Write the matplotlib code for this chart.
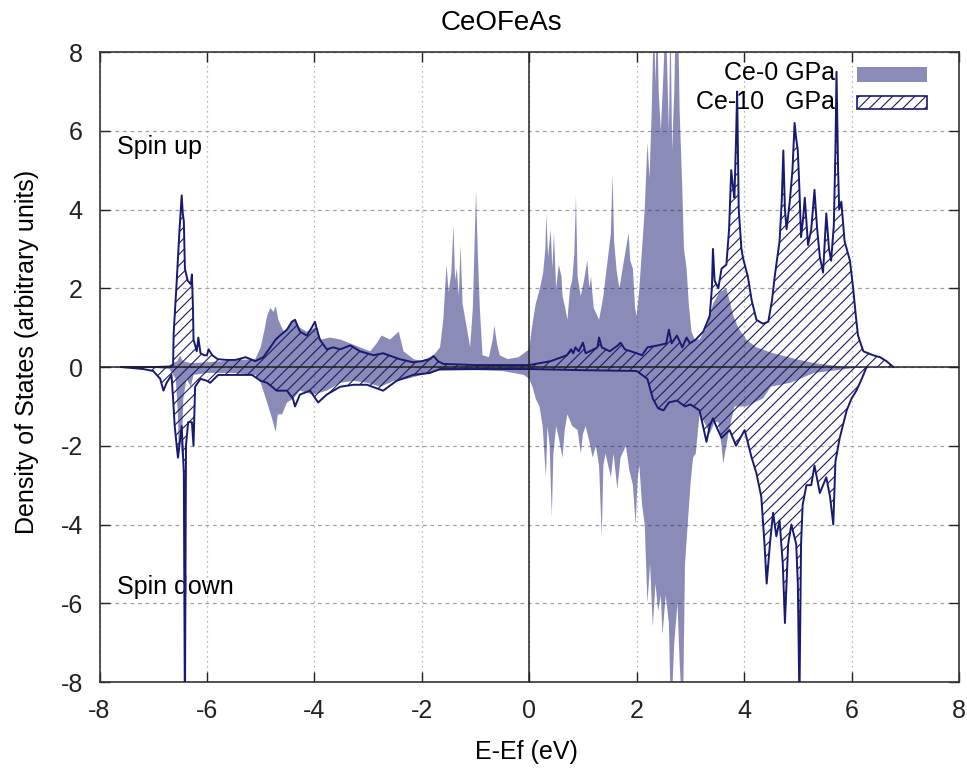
import numpy as np
import matplotlib
matplotlib.use("Agg")
import matplotlib.pyplot as plt
from matplotlib.patches import Rectangle

# --- Ce-0 GPa, spin up ---
e_up0 = [-7.6, -7.0, -6.7, -6.55, -6.5, -6.45, -6.3, -6.0, -5.7, -5.4, -5.1, -5.0,
         -4.92, -4.88, -4.82, -4.76, -4.72, -4.67, -4.57, -4.48, -4.39, -4.27, -4.14,
         -3.99, -3.87, -3.71, -3.52, -3.33, -3.15, -2.96, -2.84, -2.75, -2.59, -2.43,
         -2.34, -2.15, -2.0, -1.78, -1.66, -1.6, -1.54, -1.5, -1.45, -1.41, -1.38,
         -1.35, -1.31, -1.28, -1.24, -1.15, -1.1, -1.05, -1.01, -0.99, -0.96, -0.92,
         -0.87, -0.75, -0.68, -0.65, -0.6, -0.55, -0.4, -0.2, 0.0, 0.05, 0.12, 0.2,
         0.26, 0.3, 0.32, 0.35, 0.4, 0.43, 0.46, 0.5, 0.55, 0.6, 0.62, 0.67, 0.71,
         0.76, 0.8, 0.84, 0.87, 0.9, 0.96, 1.02, 1.08, 1.12, 1.15, 1.2, 1.3, 1.38,
         1.45, 1.52, 1.55, 1.58, 1.63, 1.68, 1.75, 1.8, 1.85, 1.88, 1.93, 1.97, 2.0,
         2.05, 2.1, 2.15, 2.2, 2.24, 2.28, 2.32, 2.35, 2.38, 2.41, 2.45, 2.5, 2.54,
         2.58, 2.6, 2.63, 2.66, 2.7, 2.73, 2.77, 2.8, 2.85, 2.88, 2.93, 2.97, 3.02,
         3.08, 3.17, 3.3, 3.42, 3.54, 3.67, 3.8, 3.89, 4.04, 4.23, 4.54, 4.97, 5.3,
         5.6, 5.9]
dos_up0 = [0.0, 0.02, 0.05, 0.15, 0.3, 0.15, 0.1, 0.12, 0.15, 0.18, 0.2, 0.5,
           1.0, 1.3, 1.5, 1.4, 1.55, 1.2, 0.9, 1.0, 1.2, 1.0, 0.9,
           1.0, 0.7, 0.75, 0.7, 0.6, 0.5, 0.4, 0.6, 0.8, 0.7, 0.9,
           0.4, 0.2, 0.15, 0.3, 0.5, 1.2, 2.6, 1.9, 2.4, 3.6, 2.2,
           2.5, 1.8, 3.1, 1.6, 0.9, 0.5, 1.5, 3.5, 4.5, 3.0, 1.5,
           0.3, 0.25, 0.7, 1.05, 0.6, 0.3, 0.2, 0.25, 0.45, 1.0, 1.6, 2.0,
           2.4, 3.0, 3.9, 2.8, 3.5, 2.5, 3.4, 2.0, 2.6, 2.3, 1.8, 1.5, 1.2,
           2.0, 2.2, 2.9, 4.35, 2.3, 1.8, 2.2, 2.7, 2.0, 2.3, 1.5, 1.2, 1.8,
           2.6, 3.4, 4.9, 3.2, 2.4, 2.0, 2.6, 3.0, 3.4, 2.7, 2.5, 1.5, 1.3,
           2.0, 3.0, 4.0, 5.7, 4.8, 6.5, 9.0, 7.2, 9.0, 7.0, 6.0, 7.5, 9.0,
           7.0, 6.0, 9.0, 5.5, 7.0, 9.0, 9.0, 6.5, 4.5, 3.0, 2.5, 1.6, 0.9,
           0.7, 0.7, 1.0, 1.6, 1.9, 2.0, 1.3, 1.0, 0.7, 0.5, 0.35, 0.2, 0.1,
           0.05, 0.0]

# --- Ce-0 GPa, spin down ---
e_dn0 = [-7.6, -7.0, -6.7, -6.58, -6.54, -6.52, -6.5, -6.47, -6.44, -6.38, -6.3,
         -6.25, -6.0, -5.5, -5.1, -5.0, -4.88, -4.79, -4.72, -4.68, -4.6, -4.51,
         -4.39, -4.27, -4.02, -3.77, -3.52, -3.27, -3.02, -2.77, -2.52, -2.27, -2.0,
         -1.7, -1.0, -0.5, -0.1, 0.0, 0.06, 0.12, 0.19, 0.25, 0.31, 0.34, 0.38,
         0.42, 0.45, 0.5, 0.55, 0.62, 0.66, 0.71, 0.8, 0.9, 0.96, 1.0, 1.05, 1.12,
         1.18, 1.24, 1.3, 1.35, 1.38, 1.42, 1.47, 1.52, 1.57, 1.64, 1.7, 1.8, 1.86,
         1.93, 1.98, 2.02, 2.05, 2.1, 2.15, 2.2, 2.25, 2.3, 2.35, 2.4, 2.45, 2.48,
         2.54, 2.6, 2.64, 2.7, 2.76, 2.8, 2.86, 2.9, 2.95, 3.0, 3.05, 3.1, 3.17,
         3.3, 3.36, 3.45, 3.52, 3.58, 3.61, 3.67, 3.72, 3.82, 4.04, 4.35, 4.5,
         4.86, 5.3, 5.9, 6.2]
dos_dn0 = [0.0, -0.02, -0.05, -0.3, -1.2, -2.45, -1.5, -2.3, -0.8, -0.3, -0.5,
           -0.2, -0.15, -0.15, -0.2, -0.4, -0.9, -1.3, -1.65, -1.2, -1.2, -0.9,
           -0.8, -0.6, -0.7, -0.6, -0.4, -0.35, -0.4, -0.5, -0.35, -0.3, -0.2,
           -0.1, -0.08, -0.1, -0.2, -0.3, -0.5, -0.8, -1.0, -1.5, -2.8, -1.5, -2.0,
           -3.8, -2.2, -1.5, -1.8, -2.3, -1.6, -1.2, -1.5, -1.6, -2.2, -1.7, -1.5, -1.9,
           -2.3, -2.0, -2.5, -4.3, -2.5, -2.2, -2.5, -2.8, -2.2, -3.1, -2.3, -2.0, -2.6,
           -3.0, -4.0, -2.8, -2.5, -3.5, -4.0, -6.0, -5.0, -6.6, -5.5, -6.2, -5.8, -6.8,
           -5.8, -6.5, -9.0, -7.0, -6.0, -7.5, -9.0, -5.0, -4.0, -3.0, -2.3, -2.2, -1.2,
           -1.5, -1.7, -1.4, -1.4, -2.0, -2.45, -2.0, -1.6, -1.0, -1.0, -0.8, -0.5,
           -0.4, -0.15, -0.05, 0.0]

# --- Ce-10 GPa, spin up ---
e_up10 = [-7.6, -6.7, -6.63, -6.62, -6.57, -6.51, -6.47, -6.45, -6.43, -6.41, -6.36,
          -6.3, -6.28, -6.26, -6.25, -6.19, -6.16, -6.12, -6.05, -6.0, -5.97, -5.9,
          -5.8, -5.63, -5.47, -5.28, -5.1, -4.95, -4.82, -4.72, -4.64, -4.51, -4.42,
          -4.36, -4.3, -4.27, -4.14, -4.05, -3.99, -3.9, -3.77, -3.65, -3.52, -3.33,
          -3.15, -2.9, -2.72, -2.41, -2.16, -2.0, -1.85, -1.78, -1.7, -1.6, -1.0,
          0.0, 0.2, 0.4, 0.5, 0.7, 0.78, 0.82, 0.86, 0.92, 1.0, 1.05, 1.2, 1.27,
          1.3, 1.35, 1.5, 1.65, 1.7, 1.78, 2.0, 2.1, 2.2, 2.4, 2.55, 2.6, 2.65,
          2.75, 2.85, 2.93, 2.99, 3.1, 3.24, 3.36, 3.4, 3.42, 3.45, 3.52, 3.58,
          3.67, 3.72, 3.76, 3.8, 3.82, 3.85, 3.87, 3.89, 3.9, 3.95, 3.98, 4.03,
          4.07, 4.14, 4.23, 4.35, 4.45, 4.52, 4.57, 4.66, 4.7, 4.73, 4.76, 4.79,
          4.85, 4.9, 4.94, 4.97, 5.0, 5.03, 5.06, 5.1, 5.13, 5.19, 5.25, 5.31,
          5.36, 5.41, 5.47, 5.53, 5.58, 5.62, 5.67, 5.7, 5.72, 5.75, 5.77, 5.81,
          5.87, 5.93, 5.97, 6.03, 6.08, 6.12, 6.22, 6.4, 6.53, 6.65, 6.78]
dos_up10 = [0.0, 0.0, 0.05, 0.85, 2.0, 3.5, 4.36, 3.9, 3.7, 2.5, 2.2,
            2.1, 2.35, 1.5, 0.7, 0.4, 0.75, 0.35, 0.3, 0.3, 0.45, 0.3,
            0.2, 0.18, 0.18, 0.25, 0.15, 0.25, 0.5, 0.7, 0.8, 0.95, 1.15,
            1.2, 1.0, 0.9, 0.8, 1.0, 1.15, 0.7, 0.45, 0.5, 0.45, 0.55,
            0.4, 0.3, 0.35, 0.2, 0.12, 0.15, 0.2, 0.28, 0.15, 0.08, 0.05,
            0.05, 0.1, 0.15, 0.2, 0.3, 0.45, 0.35, 0.5, 0.4, 0.62, 0.35, 0.45, 0.5,
            0.75, 0.5, 0.4, 0.55, 0.62, 0.45, 0.35, 0.3, 0.5, 0.55, 0.6, 0.95, 0.6,
            0.8, 0.5, 0.75, 0.6, 0.7, 0.9, 1.3, 2.0, 3.0, 2.2, 2.0, 2.5,
            2.6, 3.5, 5.0, 4.5, 4.3, 5.8, 7.0, 5.0, 4.0, 3.0, 2.77, 2.5,
            2.3, 1.7, 1.2, 1.1, 1.15, 1.7, 2.3, 3.2, 4.2, 5.5, 4.0, 3.5,
            4.2, 5.0, 6.2, 5.8, 5.5, 4.5, 3.3, 3.8, 4.3, 3.1, 3.5, 4.5,
            3.5, 2.8, 2.4, 3.9, 3.0, 2.7, 3.6, 5.5, 7.5, 5.0, 4.0, 4.2,
            3.2, 2.9, 2.7, 2.0, 1.3, 0.8, 0.4, 0.3, 0.25, 0.15, 0.0]

# --- Ce-10 GPa, spin down ---
e_dn10 = [-7.6, -7.43, -7.19, -7.0, -6.87, -6.81, -6.75, -6.66, -6.63, -6.6, -6.54,
          -6.47, -6.43, -6.41, -6.39, -6.35, -6.28, -6.25, -6.22, -6.12, -6.0, -5.94,
          -5.79, -5.47, -5.16, -5.0, -4.88, -4.7, -4.51, -4.4, -4.36, -4.27, -4.08,
          -3.93, -3.77, -3.52, -3.27, -3.02, -2.72, -2.47, -2.16, -1.85, -1.66, 0.0,
          1.0, 2.0, 2.2, 2.3, 2.4, 2.5, 2.6, 2.75, 2.9, 3.0, 3.17, 3.3, 3.36, 3.42,
          3.48, 3.58, 3.73, 3.85, 4.01, 4.14, 4.23, 4.32, 4.38, 4.42, 4.48, 4.54,
          4.6, 4.66, 4.72, 4.76, 4.82, 4.88, 4.97, 5.0, 5.03, 5.06, 5.09, 5.16,
          5.25, 5.31, 5.41, 5.53, 5.6, 5.66, 5.7, 5.78, 5.91, 6.0, 6.09, 6.19, 6.28]
dos_dn10 = [0.0, -0.02, -0.05, -0.1, -0.3, -0.6, -0.4, -0.2, -0.8, -1.5, -2.3,
            -1.5, -2.7, -9.0, -2.0, -1.4, -1.4, -2.0, -0.5, -0.3, -0.35, -0.4,
            -0.2, -0.2, -0.2, -0.35, -0.4, -0.6, -0.6, -0.8, -1.0, -0.7, -0.6,
            -0.9, -0.7, -0.5, -0.45, -0.45, -0.6, -0.35, -0.2, -0.15, -0.05, -0.05,
            -0.08, -0.1, -0.3, -0.8, -1.05, -1.1, -0.9, -0.85, -1.0, -0.95, -1.1, -1.9, -1.5, -1.3,
            -1.5, -1.8, -1.6, -2.0, -1.6, -2.3, -2.7, -3.3, -4.5, -5.5, -4.5, -3.7,
            -4.3, -3.9, -5.0, -6.5, -4.5, -4.0, -4.5, -5.5, -8.5, -4.5, -3.5, -3.0,
            -3.0, -2.5, -3.2, -2.8, -3.3, -4.0, -2.4, -1.8, -1.1, -0.8, -0.6, -0.3, 0.0]

xticks = np.arange(-8, 9, 2)
yticks = np.arange(-8, 9, 2)

fill_0 = (25/255, 25/255, 112/255, 0.5)
navy = "#191970"

plt.rcParams["font.family"] = ["Liberation Sans", "DejaVu Sans"]
plt.rcParams["axes.unicode_minus"] = False
plt.rcParams["hatch.linewidth"] = 0.8

fig = plt.figure(figsize=(9.67, 7.69), dpi=100)
ax = fig.add_axes([0.1029, 0.1131, 0.8888, 0.8192])

# Ce-0 GPa: plain translucent fill
ax.fill_between(e_up0, dos_up0, 0, facecolor=fill_0, lw=0, zorder=2)
ax.fill_between(e_dn0, dos_dn0, 0, facecolor=fill_0, lw=0, zorder=2)

# Ce-10 GPa: hatched fill with dark outline
for e, d in ((e_up10, dos_up10), (e_dn10, dos_dn10)):
    ax.fill_between(e, d, 0, facecolor="none", edgecolor=navy, hatch="///",
                    lw=0, zorder=3)
    ax.plot(e, d, color=navy, lw=1.4, zorder=4)

ax.axhline(0, color="#222222", lw=1.1, zorder=5)
ax.axvline(0, color="#222222", lw=1.1, zorder=5)

ax.set_xlim(-8, 8)
ax.set_ylim(-8, 8)
ax.set_xticks(xticks)
ax.set_yticks(yticks)
ax.tick_params(direction="in", length=7, width=1, top=True, right=True,
               labelsize=18, pad=12, colors="#222222")
for s in ax.spines.values():
    s.set_linewidth(1.2)
    s.set_color("#333333")

ax.set_axisbelow(True)
ax.xaxis.grid(True, color="#a0a0a0", lw=0.9, linestyle=(0, (1, 3)))
ax.yaxis.grid(True, color="#a0a0a0", lw=0.9, linestyle=(0, (3, 3)))

fig.text(0.519, 0.970, "CeOFeAs", ha="center", va="center", fontsize=20)
fig.text(0.544, 0.022, "E-Ef (eV)", ha="center", va="center", fontsize=18)
fig.text(0.028, 0.542, "Density of States (arbitrary units)", ha="center",
         va="center", rotation=90, fontsize=18)

ax.text(0.02, 0.849, "Spin up", transform=ax.transAxes, ha="left",
        va="center", fontsize=18, zorder=1)
ax.text(0.02, 0.151, "Spin down", transform=ax.transAxes, ha="left",
        va="center", fontsize=18, zorder=1)

# key
ax.text(0.856, 0.967, "Ce-0 GPa", transform=ax.transAxes, ha="right",
        va="center", fontsize=18, zorder=1)
ax.text(0.856, 0.921, "Ce-10   GPa", transform=ax.transAxes, ha="right",
        va="center", fontsize=18, zorder=1)
ax.add_patch(Rectangle((0.881, 0.953), 0.082, 0.024, transform=ax.transAxes,
                       facecolor=fill_0, lw=0, clip_on=False))
ax.add_patch(Rectangle((0.881, 0.910), 0.082, 0.020, transform=ax.transAxes,
                       facecolor="white", edgecolor=navy, hatch="///", lw=1.2,
                       clip_on=False))

fig.savefig("out.png", dpi=100)
